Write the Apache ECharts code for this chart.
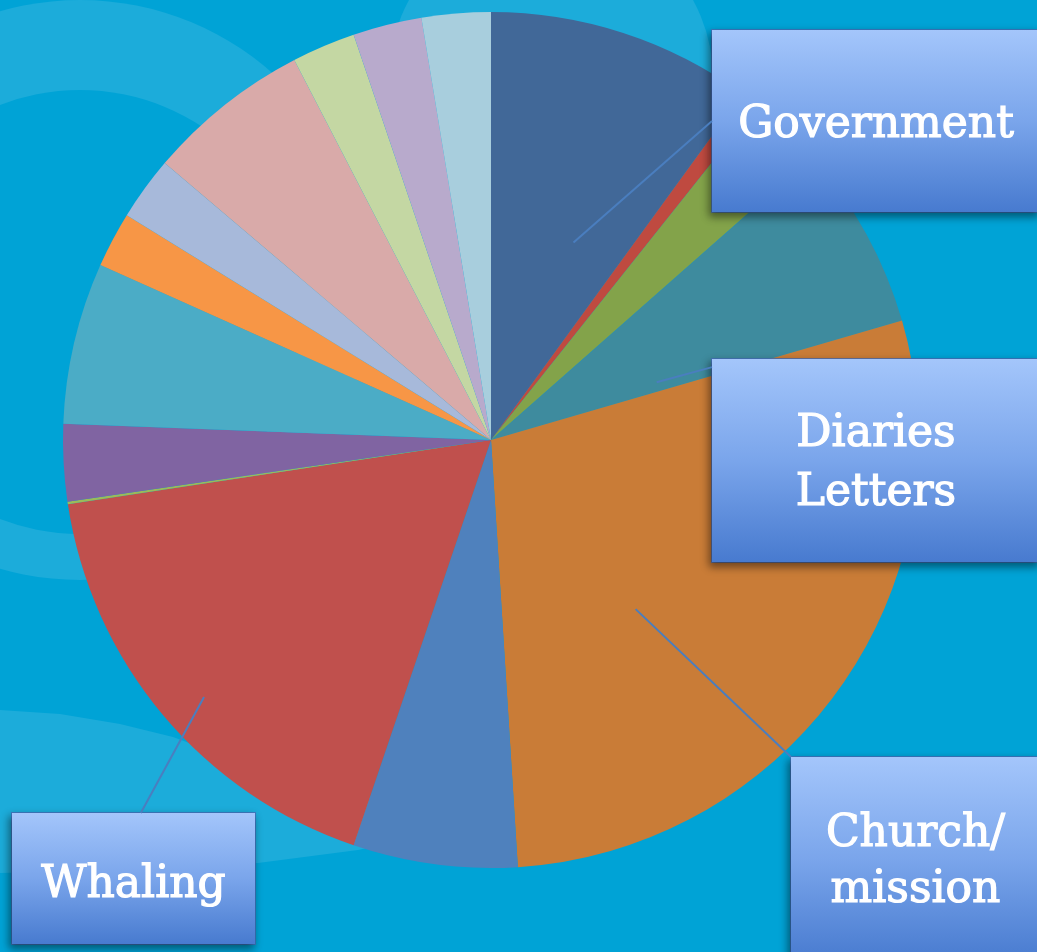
<!DOCTYPE html>
<html>
<head>
<meta charset="utf-8">
<script src="https://cdn.jsdelivr.net/npm/echarts@6/dist/echarts.min.js"></script>
<style>
html,body{margin:0;padding:0;background:#00A3D6;overflow:hidden;}
#chart{width:1037px;height:952px;}
</style>
</head>
<body>
<div id="chart"></div>
<script>
// ---- data (clockwise from 12 o'clock, in % of total) ----
const categories = [
  'Government', 'Category 2', 'Category 3', 'Diaries\nLetters', 'Church/\nmission',
  'Category 6', 'Whaling', 'Category 8', 'Category 9', 'Category 10',
  'Category 11', 'Category 12', 'Category 13', 'Category 14', 'Category 15', 'Category 16'
];
const values = [10.0, 0.7, 2.8, 7.0, 28.5, 6.2, 17.4, 0.1, 2.9, 6.1, 2.1, 2.4, 6.2, 2.4, 2.6, 2.6];
const labelledCategories = ['Government', 'Diaries\nLetters', 'Church/\nmission', 'Whaling'];

// ---- styles ----
const sliceColors = [
  '#416898', '#BF4A40', '#83A34A', '#3E8B9E', '#C97C37', '#4F81BD', '#C0504D', '#9BBB59',
  '#8064A2', '#4BACC6', '#F79646', '#A7B9DA', '#D9AAA9', '#C4D7A3', '#B8AACC', '#A8CEDD'
];
const BG_DARK = '#00A3D6';
const BG_LIGHT = '#1CACDA';
const LEADER_COLOR = '#4A7EBF';

// label box placement (style, not data): centre, size, line height, text offset, leader-line anchors
const labelBoxes = {
  'Government':       { cx: 876,   cy: 121,   w: 328, h: 182, lh: 50, lines: 1, shift: 5, edge: [0, 0.5],  t: 0.63, f: 0.50 },
  'Diaries\nLetters': { cx: 876,   cy: 460.5, w: 328, h: 203, lh: 59, lines: 2, shift: 4, edge: [0, 0.04], t: 0.88, f: 0.41 },
  'Church/\nmission': { cx: 915.5, cy: 859.5, w: 249, h: 205, lh: 56, lines: 2, shift: 3, edge: [0, 0],    t: 0.64, f: 0.52 },
  'Whaling':          { cx: 133.5, cy: 878.5, w: 243, h: 131, lh: 50, lines: 1, shift: 7, edge: [0.53, 0], t: 0.47, f: 0.90 }
};

const chart = echarts.init(document.getElementById('chart'), null, { renderer: 'canvas' });

function boxGradient() {
  return new echarts.graphic.LinearGradient(0, 0, 0, 1, [
    { offset: 0, color: '#A4C6FB' },
    { offset: 0.5, color: '#7AA5EB' },
    { offset: 1, color: '#477ACF' }
  ]);
}

const seriesData = categories.map(function (name, i) {
  const item = { name: name, value: values[i], itemStyle: { color: sliceColors[i] } };
  const b = labelBoxes[name];
  if (b && labelledCategories.indexOf(name) >= 0) {
    const padV = (b.h - b.lh * b.lines) / 2;
    item.label = {
      show: true,
      position: 'outside',
      formatter: '{b}',
      width: b.w,
      overflow: 'none',
      padding: [padV + b.shift, 0, padV - b.shift, 0],
      lineHeight: b.lh,
      fontSize: 44,
      fontFamily: 'DejaVu Serif',
      color: '#FFFFFF',
      textBorderColor: '#FFFFFF',
      textBorderWidth: 1.2,
      align: 'center',
      backgroundColor: boxGradient(),
      borderColor: 'rgba(70,110,185,0.8)',
      borderWidth: 1,
      shadowColor: 'rgba(0,0,0,0.45)',
      shadowBlur: 8,
      shadowOffsetX: -2,
      shadowOffsetY: 4
    };
  } else {
    item.label = { show: false };
  }
  item.labelLine = { show: false };
  return item;
});

const backgroundElements = [
  { type: 'circle', id: 'bg1', silent: true, z: 0, z2: 0, shape: { cx: 80, cy: 290, r: 290 }, style: { fill: BG_LIGHT } },
  { type: 'circle', id: 'bg2', silent: true, z: 0, z2: 1, shape: { cx: 80, cy: 312, r: 222 }, style: { fill: BG_DARK } },
  { type: 'circle', id: 'bg3', silent: true, z: 0, z2: 0, shape: { cx: 551, cy: 78, r: 162 }, style: { fill: BG_LIGHT } },
  { type: 'polygon', id: 'bg4', silent: true, z: 0, z2: 0, shape: { points: [
      [0, 710], [60, 714], [120, 724], [173, 737], [230, 758], [300, 790], [420, 800],
      [450, 830], [358, 850], [258, 863], [130, 870], [0, 873]
    ] }, style: { fill: BG_LIGHT } }
];

const option = {
  backgroundColor: BG_DARK,
  animation: false,
  graphic: { elements: backgroundElements },
  series: [{
    type: 'pie',
    center: [491, 440],
    radius: [0, 428],
    startAngle: 90,
    clockwise: true,
    avoidLabelOverlap: false,
    emphasis: { disabled: true },
    itemStyle: { borderWidth: 0 },
    label: { show: false },
    labelLine: { show: false },
    data: seriesData,
    labelLayout: function (params) {
      const b = labelBoxes[categories[params.dataIndex]];
      if (!b) return {};
      return { x: b.cx, y: b.cy - b.h / 2, align: 'center', verticalAlign: 'top' };
    }
  }]
};

chart.setOption(option);

// leader lines: start inside each labelled slice, computed from the pie's own layout
const leaderElements = [];
try {
  const pieData = chart.getModel().getSeriesByIndex(0).getData();
  labelledCategories.forEach(function (name) {
    const idx = categories.indexOf(name);
    const b = labelBoxes[name];
    const lay = pieData.getItemLayout(idx);
    const a = lay.startAngle + b.t * (lay.endAngle - lay.startAngle);
    const rr = b.f * lay.r;
    const left = b.cx - b.w / 2;
    const top = b.cy - b.h / 2;
    leaderElements.push({
      type: 'line', id: 'leader-' + idx, silent: true, z: 5,
      shape: {
        x1: lay.cx + rr * Math.cos(a), y1: lay.cy + rr * Math.sin(a),
        x2: left + b.edge[0] * b.w, y2: top + b.edge[1] * b.h
      },
      style: { stroke: LEADER_COLOR, lineWidth: 2 }
    });
  });
} catch (e) { /* no leader lines if layout not available */ }

option.graphic = { elements: backgroundElements.concat(leaderElements) };
chart.setOption(option, true);
</script>
</body>
</html>
